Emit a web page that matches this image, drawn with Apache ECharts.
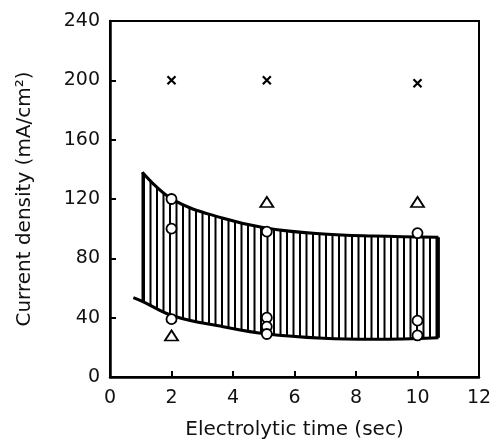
<!DOCTYPE html>
<html><head><meta charset="utf-8">
<script src="https://cdn.jsdelivr.net/npm/echarts@6/dist/echarts.min.js"></script>
<style>html,body{margin:0;padding:0;background:#fff}#c{width:497px;height:446px}</style>
</head><body><div id="c"></div>
<script>
// ---- data ----
const xTicks = [0, 2, 4, 6, 8, 10, 12];
const yTicks = [0, 40, 80, 120, 160, 200, 240];
const xName = 'Electrolytic time (sec)';
const yName = 'Current density (mA/cm²)';
const crossX = [2, 5.1, 10];
const crossY = [200, 200, 198];
const triX = [2, 5.1, 10];
const triY = [28, 118, 118];
const circX = [2, 2, 2, 5.1, 5.1, 5.1, 5.1, 10, 10, 10];
const circY = [120, 100, 39, 98, 40, 34, 29, 97, 38, 28];
const bandX = [1.05, 2.06, 3.68, 5.1, 6.94, 8.56, 10.68];
const bandUpper = [138, 119.4, 107, 100.3, 96.4, 95, 94.2];
const bandLower = [51, 41.1, 33.9, 29, 26.1, 25.4, 26.5];
const tailX = [0.76];
const tailY = [53.5];

// ---- hatch pattern ----
const pc = document.createElement('canvas');
pc.width = 13; pc.height = 8;
const g = pc.getContext('2d');
g.fillStyle = '#fff';
g.fillRect(0, 0, 13, 8);
g.fillStyle = '#000';
g.fillRect(0, 0, 2, 8);
g.fillRect(6.5, 0, 2, 8);

const zip = (a, b) => a.map((v, i) => [v, b[i]]);
const font = 'DejaVu Sans';
const last = bandX.length - 1;
const smooth = 0.4;

const chart = echarts.init(document.getElementById('c'), null, {renderer: 'canvas'});
chart.setOption({
  animation: false,
  backgroundColor: '#fff',
  grid: {left: 110, right: 18, top: 21, bottom: 69, show: true, borderColor: '#000', borderWidth: 2, backgroundColor: 'transparent', z: 20},
  xAxis: {
    type: 'value', min: xTicks[0], max: xTicks[xTicks.length - 1], interval: xTicks[1] - xTicks[0],
    name: xName, nameLocation: 'middle', nameGap: 43, z: 20,
    nameTextStyle: {fontFamily: font, fontSize: 20, color: '#111'},
    axisLine: {lineStyle: {color: '#000', width: 2.5}},
    axisTick: {inside: true, length: 6, lineStyle: {color: '#000', width: 2}},
    axisLabel: {fontFamily: font, fontSize: 19, color: '#111', margin: 12},
    splitLine: {show: false}
  },
  yAxis: {
    type: 'value', min: yTicks[0], max: yTicks[yTicks.length - 1], interval: yTicks[1] - yTicks[0],
    name: yName, nameLocation: 'middle', nameGap: 75, z: 20,
    nameTextStyle: {fontFamily: font, fontSize: 20, color: '#111'},
    axisLine: {lineStyle: {color: '#000', width: 2.5}},
    axisTick: {inside: true, length: 6, lineStyle: {color: '#000', width: 2}},
    axisLabel: {fontFamily: font, fontSize: 19, color: '#111', margin: 10},
    splitLine: {show: false}
  },
  series: [
    // hatched band: filled down from the upper curve, then masked below the lower curve
    {type: 'line', data: zip(bandX, bandUpper), smooth: smooth, symbol: 'none',
     lineStyle: {color: '#000', width: 3}, areaStyle: {origin: 'start', color: {image: pc, repeat: 'repeat'}, opacity: 1},
     z: 1, silent: true},
    {type: 'line', data: zip(bandX, bandLower), smooth: smooth, symbol: 'none',
     lineStyle: {width: 0, opacity: 0}, areaStyle: {origin: 'start', color: '#fff', opacity: 1},
     z: 2, silent: true},
    {type: 'line', data: zip(tailX.concat(bandX), tailY.concat(bandLower)), smooth: smooth, symbol: 'none',
     lineStyle: {color: '#000', width: 3}, z: 3, silent: true},
    {type: 'line', data: [[bandX[last], bandLower[last]], [bandX[last], bandUpper[last]]], symbol: 'none',
     lineStyle: {color: '#000', width: 3}, z: 3, silent: true},
    {type: 'line', data: [[bandX[0], bandLower[0]], [bandX[0], bandUpper[0]]], symbol: 'none',
     lineStyle: {color: '#000', width: 1.6}, z: 3, silent: true},
    {type: 'scatter', data: zip(circX, circY), symbol: 'circle', symbolSize: 10,
     itemStyle: {color: '#fff', borderColor: '#000', borderWidth: 1.8, opacity: 1}, z: 5},
    {type: 'scatter', data: zip(triX, triY), symbol: 'triangle', symbolSize: [13, 10],
     itemStyle: {color: '#fff', borderColor: '#000', borderWidth: 1.8, opacity: 1}, z: 5},
    {type: 'scatter', data: zip(crossX, crossY), symbol: 'path://M0,0L10,10M10,0L0,10', symbolSize: 8,
     itemStyle: {color: 'none', borderColor: '#000', borderWidth: 2.2, opacity: 1}, z: 5}
  ]
});
</script></body></html>
